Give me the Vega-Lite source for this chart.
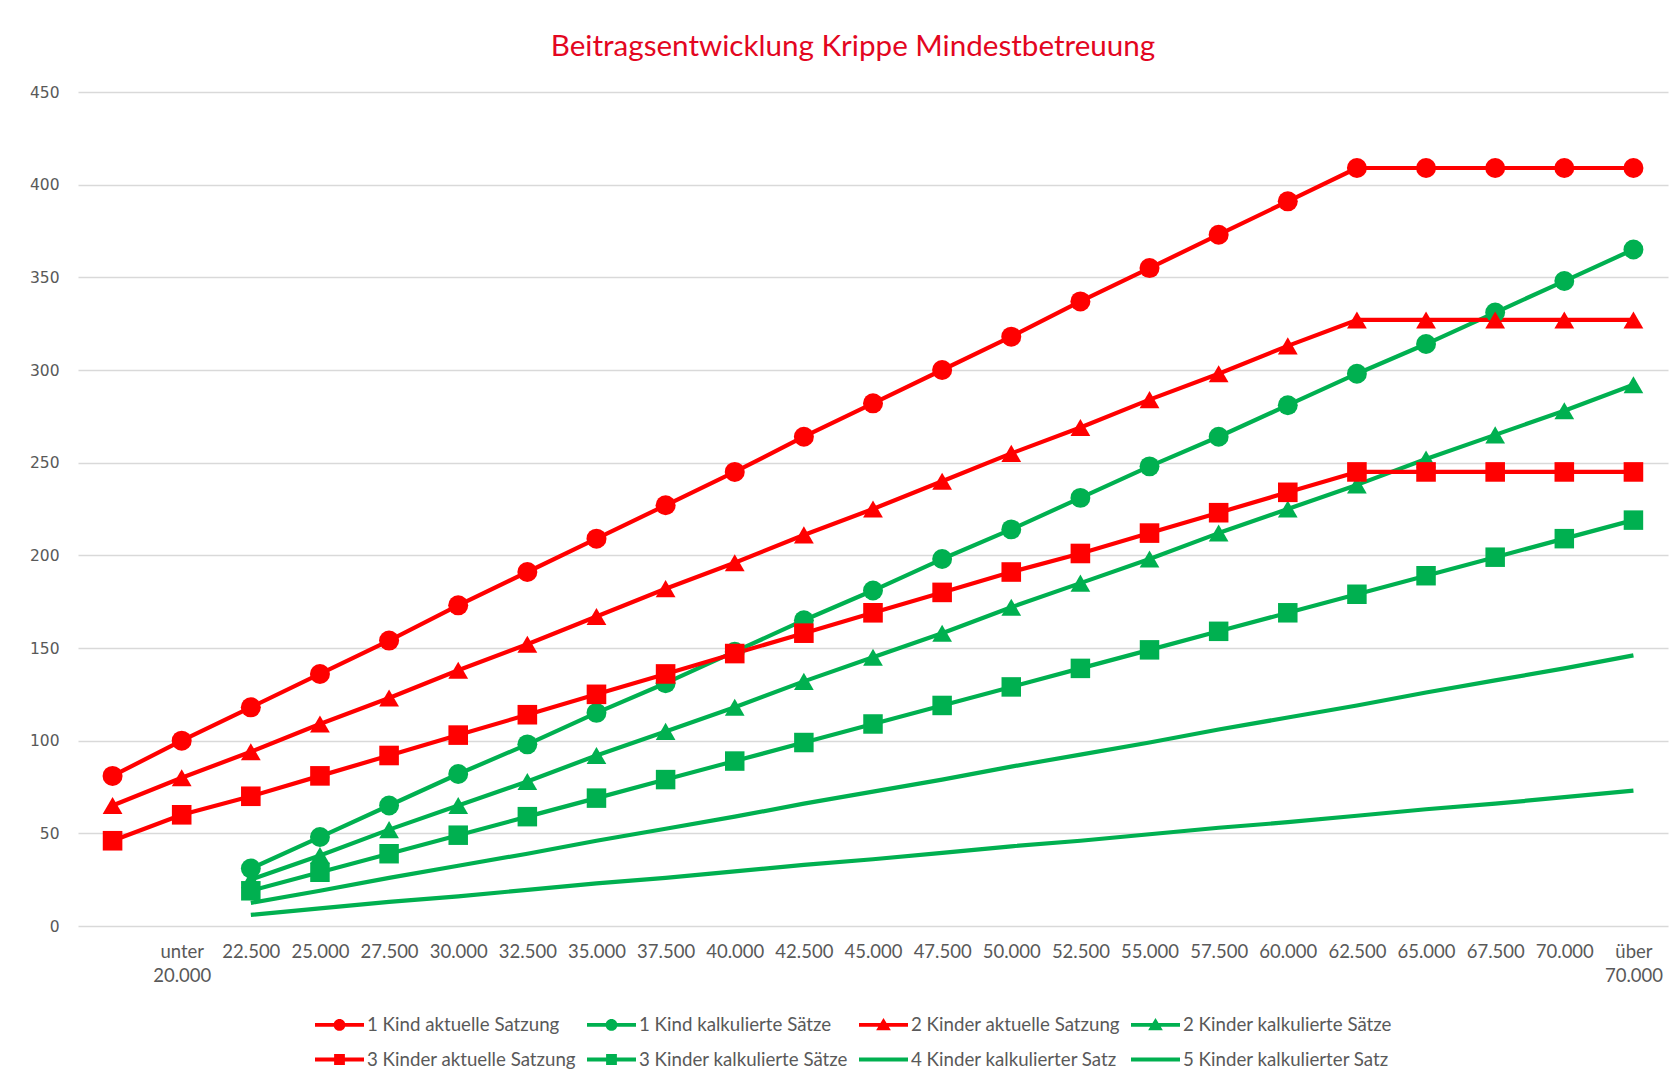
{
  "$schema": "https://vega.github.io/schema/vega-lite/v6.json",
  "autosize": {"type": "none"},
  "padding": {"left": 78, "top": 92, "right": 9, "bottom": 164},
  "width": 1590,
  "height": 834,
  "background": "white",
  "title": {
    "text": "Beitragsentwicklung Krippe Mindestbetreuung",
    "font": "Lato",
    "fontSize": 29.6,
    "fontWeight": "normal",
    "color": "#E3061F",
    "anchor": "middle",
    "dx": -20,
    "offset": 22
  },
  "config": {
    "view": {"stroke": null},
    "font": "Lato"
  },
  "data": {
    "values": [
      {"k": "", "s": "1 Kind aktuelle Satzung", "v": 81},
      {"k": "unter 20.000", "s": "1 Kind aktuelle Satzung", "v": 100},
      {"k": "22.500", "s": "1 Kind aktuelle Satzung", "v": 118},
      {"k": "25.000", "s": "1 Kind aktuelle Satzung", "v": 136},
      {"k": "27.500", "s": "1 Kind aktuelle Satzung", "v": 154},
      {"k": "30.000", "s": "1 Kind aktuelle Satzung", "v": 173},
      {"k": "32.500", "s": "1 Kind aktuelle Satzung", "v": 191},
      {"k": "35.000", "s": "1 Kind aktuelle Satzung", "v": 209},
      {"k": "37.500", "s": "1 Kind aktuelle Satzung", "v": 227},
      {"k": "40.000", "s": "1 Kind aktuelle Satzung", "v": 245},
      {"k": "42.500", "s": "1 Kind aktuelle Satzung", "v": 264},
      {"k": "45.000", "s": "1 Kind aktuelle Satzung", "v": 282},
      {"k": "47.500", "s": "1 Kind aktuelle Satzung", "v": 300},
      {"k": "50.000", "s": "1 Kind aktuelle Satzung", "v": 318},
      {"k": "52.500", "s": "1 Kind aktuelle Satzung", "v": 337},
      {"k": "55.000", "s": "1 Kind aktuelle Satzung", "v": 355},
      {"k": "57.500", "s": "1 Kind aktuelle Satzung", "v": 373},
      {"k": "60.000", "s": "1 Kind aktuelle Satzung", "v": 391},
      {"k": "62.500", "s": "1 Kind aktuelle Satzung", "v": 409},
      {"k": "65.000", "s": "1 Kind aktuelle Satzung", "v": 409},
      {"k": "67.500", "s": "1 Kind aktuelle Satzung", "v": 409},
      {"k": "70.000", "s": "1 Kind aktuelle Satzung", "v": 409},
      {"k": "über 70.000", "s": "1 Kind aktuelle Satzung", "v": 409},

      {"k": "22.500", "s": "1 Kind kalkulierte Sätze", "v": 31},
      {"k": "25.000", "s": "1 Kind kalkulierte Sätze", "v": 48},
      {"k": "27.500", "s": "1 Kind kalkulierte Sätze", "v": 65},
      {"k": "30.000", "s": "1 Kind kalkulierte Sätze", "v": 82},
      {"k": "32.500", "s": "1 Kind kalkulierte Sätze", "v": 98},
      {"k": "35.000", "s": "1 Kind kalkulierte Sätze", "v": 115},
      {"k": "37.500", "s": "1 Kind kalkulierte Sätze", "v": 131},
      {"k": "40.000", "s": "1 Kind kalkulierte Sätze", "v": 148},
      {"k": "42.500", "s": "1 Kind kalkulierte Sätze", "v": 165},
      {"k": "45.000", "s": "1 Kind kalkulierte Sätze", "v": 181},
      {"k": "47.500", "s": "1 Kind kalkulierte Sätze", "v": 198},
      {"k": "50.000", "s": "1 Kind kalkulierte Sätze", "v": 214},
      {"k": "52.500", "s": "1 Kind kalkulierte Sätze", "v": 231},
      {"k": "55.000", "s": "1 Kind kalkulierte Sätze", "v": 248},
      {"k": "57.500", "s": "1 Kind kalkulierte Sätze", "v": 264},
      {"k": "60.000", "s": "1 Kind kalkulierte Sätze", "v": 281},
      {"k": "62.500", "s": "1 Kind kalkulierte Sätze", "v": 298},
      {"k": "65.000", "s": "1 Kind kalkulierte Sätze", "v": 314},
      {"k": "67.500", "s": "1 Kind kalkulierte Sätze", "v": 331},
      {"k": "70.000", "s": "1 Kind kalkulierte Sätze", "v": 348},
      {"k": "über 70.000", "s": "1 Kind kalkulierte Sätze", "v": 365},

      {"k": "", "s": "2 Kinder aktuelle Satzung", "v": 65},
      {"k": "unter 20.000", "s": "2 Kinder aktuelle Satzung", "v": 80},
      {"k": "22.500", "s": "2 Kinder aktuelle Satzung", "v": 94},
      {"k": "25.000", "s": "2 Kinder aktuelle Satzung", "v": 109},
      {"k": "27.500", "s": "2 Kinder aktuelle Satzung", "v": 123},
      {"k": "30.000", "s": "2 Kinder aktuelle Satzung", "v": 138},
      {"k": "32.500", "s": "2 Kinder aktuelle Satzung", "v": 152},
      {"k": "35.000", "s": "2 Kinder aktuelle Satzung", "v": 167},
      {"k": "37.500", "s": "2 Kinder aktuelle Satzung", "v": 182},
      {"k": "40.000", "s": "2 Kinder aktuelle Satzung", "v": 196},
      {"k": "42.500", "s": "2 Kinder aktuelle Satzung", "v": 211},
      {"k": "45.000", "s": "2 Kinder aktuelle Satzung", "v": 225},
      {"k": "47.500", "s": "2 Kinder aktuelle Satzung", "v": 240},
      {"k": "50.000", "s": "2 Kinder aktuelle Satzung", "v": 255},
      {"k": "52.500", "s": "2 Kinder aktuelle Satzung", "v": 269},
      {"k": "55.000", "s": "2 Kinder aktuelle Satzung", "v": 284},
      {"k": "57.500", "s": "2 Kinder aktuelle Satzung", "v": 298},
      {"k": "60.000", "s": "2 Kinder aktuelle Satzung", "v": 313},
      {"k": "62.500", "s": "2 Kinder aktuelle Satzung", "v": 327},
      {"k": "65.000", "s": "2 Kinder aktuelle Satzung", "v": 327},
      {"k": "67.500", "s": "2 Kinder aktuelle Satzung", "v": 327},
      {"k": "70.000", "s": "2 Kinder aktuelle Satzung", "v": 327},
      {"k": "über 70.000", "s": "2 Kinder aktuelle Satzung", "v": 327},

      {"k": "22.500", "s": "2 Kinder kalkulierte Sätze", "v": 25},
      {"k": "25.000", "s": "2 Kinder kalkulierte Sätze", "v": 38},
      {"k": "27.500", "s": "2 Kinder kalkulierte Sätze", "v": 52},
      {"k": "30.000", "s": "2 Kinder kalkulierte Sätze", "v": 65},
      {"k": "32.500", "s": "2 Kinder kalkulierte Sätze", "v": 78},
      {"k": "35.000", "s": "2 Kinder kalkulierte Sätze", "v": 92},
      {"k": "37.500", "s": "2 Kinder kalkulierte Sätze", "v": 105},
      {"k": "40.000", "s": "2 Kinder kalkulierte Sätze", "v": 118},
      {"k": "42.500", "s": "2 Kinder kalkulierte Sätze", "v": 132},
      {"k": "45.000", "s": "2 Kinder kalkulierte Sätze", "v": 145},
      {"k": "47.500", "s": "2 Kinder kalkulierte Sätze", "v": 158},
      {"k": "50.000", "s": "2 Kinder kalkulierte Sätze", "v": 172},
      {"k": "52.500", "s": "2 Kinder kalkulierte Sätze", "v": 185},
      {"k": "55.000", "s": "2 Kinder kalkulierte Sätze", "v": 198},
      {"k": "57.500", "s": "2 Kinder kalkulierte Sätze", "v": 212},
      {"k": "60.000", "s": "2 Kinder kalkulierte Sätze", "v": 225},
      {"k": "62.500", "s": "2 Kinder kalkulierte Sätze", "v": 238},
      {"k": "65.000", "s": "2 Kinder kalkulierte Sätze", "v": 252},
      {"k": "67.500", "s": "2 Kinder kalkulierte Sätze", "v": 265},
      {"k": "70.000", "s": "2 Kinder kalkulierte Sätze", "v": 278},
      {"k": "über 70.000", "s": "2 Kinder kalkulierte Sätze", "v": 292},

      {"k": "", "s": "3 Kinder aktuelle Satzung", "v": 46},
      {"k": "unter 20.000", "s": "3 Kinder aktuelle Satzung", "v": 60},
      {"k": "22.500", "s": "3 Kinder aktuelle Satzung", "v": 70},
      {"k": "25.000", "s": "3 Kinder aktuelle Satzung", "v": 81},
      {"k": "27.500", "s": "3 Kinder aktuelle Satzung", "v": 92},
      {"k": "30.000", "s": "3 Kinder aktuelle Satzung", "v": 103},
      {"k": "32.500", "s": "3 Kinder aktuelle Satzung", "v": 114},
      {"k": "35.000", "s": "3 Kinder aktuelle Satzung", "v": 125},
      {"k": "37.500", "s": "3 Kinder aktuelle Satzung", "v": 136},
      {"k": "40.000", "s": "3 Kinder aktuelle Satzung", "v": 147},
      {"k": "42.500", "s": "3 Kinder aktuelle Satzung", "v": 158},
      {"k": "45.000", "s": "3 Kinder aktuelle Satzung", "v": 169},
      {"k": "47.500", "s": "3 Kinder aktuelle Satzung", "v": 180},
      {"k": "50.000", "s": "3 Kinder aktuelle Satzung", "v": 191},
      {"k": "52.500", "s": "3 Kinder aktuelle Satzung", "v": 201},
      {"k": "55.000", "s": "3 Kinder aktuelle Satzung", "v": 212},
      {"k": "57.500", "s": "3 Kinder aktuelle Satzung", "v": 223},
      {"k": "60.000", "s": "3 Kinder aktuelle Satzung", "v": 234},
      {"k": "62.500", "s": "3 Kinder aktuelle Satzung", "v": 245},
      {"k": "65.000", "s": "3 Kinder aktuelle Satzung", "v": 245},
      {"k": "67.500", "s": "3 Kinder aktuelle Satzung", "v": 245},
      {"k": "70.000", "s": "3 Kinder aktuelle Satzung", "v": 245},
      {"k": "über 70.000", "s": "3 Kinder aktuelle Satzung", "v": 245},

      {"k": "22.500", "s": "3 Kinder kalkulierte Sätze", "v": 19},
      {"k": "25.000", "s": "3 Kinder kalkulierte Sätze", "v": 29},
      {"k": "27.500", "s": "3 Kinder kalkulierte Sätze", "v": 39},
      {"k": "30.000", "s": "3 Kinder kalkulierte Sätze", "v": 49},
      {"k": "32.500", "s": "3 Kinder kalkulierte Sätze", "v": 59},
      {"k": "35.000", "s": "3 Kinder kalkulierte Sätze", "v": 69},
      {"k": "37.500", "s": "3 Kinder kalkulierte Sätze", "v": 79},
      {"k": "40.000", "s": "3 Kinder kalkulierte Sätze", "v": 89},
      {"k": "42.500", "s": "3 Kinder kalkulierte Sätze", "v": 99},
      {"k": "45.000", "s": "3 Kinder kalkulierte Sätze", "v": 109},
      {"k": "47.500", "s": "3 Kinder kalkulierte Sätze", "v": 119},
      {"k": "50.000", "s": "3 Kinder kalkulierte Sätze", "v": 129},
      {"k": "52.500", "s": "3 Kinder kalkulierte Sätze", "v": 139},
      {"k": "55.000", "s": "3 Kinder kalkulierte Sätze", "v": 149},
      {"k": "57.500", "s": "3 Kinder kalkulierte Sätze", "v": 159},
      {"k": "60.000", "s": "3 Kinder kalkulierte Sätze", "v": 169},
      {"k": "62.500", "s": "3 Kinder kalkulierte Sätze", "v": 179},
      {"k": "65.000", "s": "3 Kinder kalkulierte Sätze", "v": 189},
      {"k": "67.500", "s": "3 Kinder kalkulierte Sätze", "v": 199},
      {"k": "70.000", "s": "3 Kinder kalkulierte Sätze", "v": 209},
      {"k": "über 70.000", "s": "3 Kinder kalkulierte Sätze", "v": 219},

      {"k": "22.500", "s": "4 Kinder kalkulierter Satz", "v": 12.5},
      {"k": "25.000", "s": "4 Kinder kalkulierter Satz", "v": 19},
      {"k": "27.500", "s": "4 Kinder kalkulierter Satz", "v": 26},
      {"k": "30.000", "s": "4 Kinder kalkulierter Satz", "v": 32.5},
      {"k": "32.500", "s": "4 Kinder kalkulierter Satz", "v": 39},
      {"k": "35.000", "s": "4 Kinder kalkulierter Satz", "v": 46},
      {"k": "37.500", "s": "4 Kinder kalkulierter Satz", "v": 52.5},
      {"k": "40.000", "s": "4 Kinder kalkulierter Satz", "v": 59},
      {"k": "42.500", "s": "4 Kinder kalkulierter Satz", "v": 66},
      {"k": "45.000", "s": "4 Kinder kalkulierter Satz", "v": 72.5},
      {"k": "47.500", "s": "4 Kinder kalkulierter Satz", "v": 79},
      {"k": "50.000", "s": "4 Kinder kalkulierter Satz", "v": 86},
      {"k": "52.500", "s": "4 Kinder kalkulierter Satz", "v": 92.5},
      {"k": "55.000", "s": "4 Kinder kalkulierter Satz", "v": 99},
      {"k": "57.500", "s": "4 Kinder kalkulierter Satz", "v": 106},
      {"k": "60.000", "s": "4 Kinder kalkulierter Satz", "v": 112.5},
      {"k": "62.500", "s": "4 Kinder kalkulierter Satz", "v": 119},
      {"k": "65.000", "s": "4 Kinder kalkulierter Satz", "v": 126},
      {"k": "67.500", "s": "4 Kinder kalkulierter Satz", "v": 132.5},
      {"k": "70.000", "s": "4 Kinder kalkulierter Satz", "v": 139},
      {"k": "über 70.000", "s": "4 Kinder kalkulierter Satz", "v": 146},

      {"k": "22.500", "s": "5 Kinder kalkulierter Satz", "v": 6},
      {"k": "25.000", "s": "5 Kinder kalkulierter Satz", "v": 9.5},
      {"k": "27.500", "s": "5 Kinder kalkulierter Satz", "v": 13},
      {"k": "30.000", "s": "5 Kinder kalkulierter Satz", "v": 16},
      {"k": "32.500", "s": "5 Kinder kalkulierter Satz", "v": 19.5},
      {"k": "35.000", "s": "5 Kinder kalkulierter Satz", "v": 23},
      {"k": "37.500", "s": "5 Kinder kalkulierter Satz", "v": 26},
      {"k": "40.000", "s": "5 Kinder kalkulierter Satz", "v": 29.5},
      {"k": "42.500", "s": "5 Kinder kalkulierter Satz", "v": 33},
      {"k": "45.000", "s": "5 Kinder kalkulierter Satz", "v": 36},
      {"k": "47.500", "s": "5 Kinder kalkulierter Satz", "v": 39.5},
      {"k": "50.000", "s": "5 Kinder kalkulierter Satz", "v": 43},
      {"k": "52.500", "s": "5 Kinder kalkulierter Satz", "v": 46},
      {"k": "55.000", "s": "5 Kinder kalkulierter Satz", "v": 49.5},
      {"k": "57.500", "s": "5 Kinder kalkulierter Satz", "v": 53},
      {"k": "60.000", "s": "5 Kinder kalkulierter Satz", "v": 56},
      {"k": "62.500", "s": "5 Kinder kalkulierter Satz", "v": 59.5},
      {"k": "65.000", "s": "5 Kinder kalkulierter Satz", "v": 63},
      {"k": "67.500", "s": "5 Kinder kalkulierter Satz", "v": 66},
      {"k": "70.000", "s": "5 Kinder kalkulierter Satz", "v": 69.5},
      {"k": "über 70.000", "s": "5 Kinder kalkulierter Satz", "v": 73}
    ]
  },
  "encoding": {
    "x": {
      "field": "k",
      "type": "ordinal",
      "scale": {
        "type": "point",
        "padding": 0.5,
        "domain": ["", "unter 20.000", "22.500", "25.000", "27.500", "30.000", "32.500", "35.000", "37.500", "40.000", "42.500", "45.000", "47.500", "50.000", "52.500", "55.000", "57.500", "60.000", "62.500", "65.000", "67.500", "70.000", "über 70.000"]
      },
      "axis": {
        "title": null,
        "labelAngle": 0,
        "domain": false,
        "ticks": false,
        "grid": false,
        "labelFont": "Lato",
        "labelFontSize": 18.5,
        "labelColor": "#595959",
        "labelPadding": 16,
        "labelLineHeight": 24,
        "labelOverlap": false,
        "labelExpr": "split(datum.label, ' ')"
      }
    },
    "y": {
      "field": "v",
      "type": "quantitative",
      "scale": {"domain": [0, 450], "nice": false, "zero": true},
      "axis": {
        "title": null,
        "values": [0, 50, 100, 150, 200, 250, 300, 350, 400, 450],
        "domain": false,
        "ticks": false,
        "grid": true,
        "gridColor": "#d9d9d9",
        "gridWidth": 1.4,
        "labelFont": "DejaVu Sans",
        "labelFontSize": 15.5,
        "labelColor": "#595959",
        "labelPadding": 19
      }
    },
    "color": {
      "field": "s",
      "type": "nominal",
      "scale": {
        "domain": ["1 Kind aktuelle Satzung", "1 Kind kalkulierte Sätze", "2 Kinder aktuelle Satzung", "2 Kinder kalkulierte Sätze", "3 Kinder aktuelle Satzung", "3 Kinder kalkulierte Sätze", "4 Kinder kalkulierter Satz", "5 Kinder kalkulierter Satz"],
        "range": ["#FF0000", "#00B050", "#FF0000", "#00B050", "#FF0000", "#00B050", "#00B050", "#00B050"]
      },
      "legend": {
        "title": null,
        "orient": "none",
        "legendX": 237,
        "legendY": 908,
        "direction": "horizontal",
        "columns": 4,
        "columnPadding": 11,
        "rowPadding": -7,
        "symbolSize": 2401,
        "symbolType": "circle",
        "labelFont": "Lato",
        "labelFontSize": 18.7,
        "labelColor": "#595959",
        "labelOffset": 3,
        "labelLimit": 400,
        "encode": {
          "symbols": {
            "update": {
              "shape": {"signal": "indexof(datum.value, '1 Kind') === 0 ? 'M-1,-0.08L1,-0.08L1,0.08L-1,0.08ZM-0.24,0A0.24,0.24 0 1,1 0.24,0A0.24,0.24 0 1,1 -0.24,0Z' : indexof(datum.value, '2 Kinder') === 0 ? 'M-1,-0.08L1,-0.08L1,0.08L-1,0.08ZM0,-0.28L0.3,0.22L-0.3,0.22Z' : indexof(datum.value, '3 Kinder') === 0 ? 'M-1,-0.08L1,-0.08L1,0.08L-1,0.08ZM-0.22,-0.22L0.22,-0.22L0.22,0.22L-0.22,0.22Z' : 'M-1,-0.08L1,-0.08L1,0.08L-1,0.08Z'"},
              "fill": {"signal": "scale('color', datum.value)"},
              "stroke": {"value": "transparent"},
              "strokeWidth": {"value": 0},
              "opacity": {"value": 1}
            }
          }
        }
      }
    }
  },
  "layer": [
    {
      "mark": {"type": "line", "strokeWidth": 4.2, "strokeJoin": "round"}
    },
    {
      "transform": [{"filter": "indexof(datum.s, 'kalkulierter Satz') < 0"}],
      "mark": {"type": "point", "filled": true, "opacity": 1, "strokeWidth": 0},
      "encoding": {
        "shape": {
          "field": "s",
          "type": "nominal",
          "scale": {
            "domain": ["1 Kind aktuelle Satzung", "1 Kind kalkulierte Sätze", "2 Kinder aktuelle Satzung", "2 Kinder kalkulierte Sätze", "3 Kinder aktuelle Satzung", "3 Kinder kalkulierte Sätze"],
            "range": ["circle", "circle", "triangle-up", "triangle-up", "square", "square"]
          },
          "legend": null
        },
        "size": {
          "field": "s",
          "type": "nominal",
          "scale": {
            "domain": ["1 Kind aktuelle Satzung", "1 Kind kalkulierte Sätze", "2 Kinder aktuelle Satzung", "2 Kinder kalkulierte Sätze", "3 Kinder aktuelle Satzung", "3 Kinder kalkulierte Sätze"],
            "range": [400, 380, 520, 480, 500, 460]
          },
          "legend": null
        }
      }
    }
  ]
}
